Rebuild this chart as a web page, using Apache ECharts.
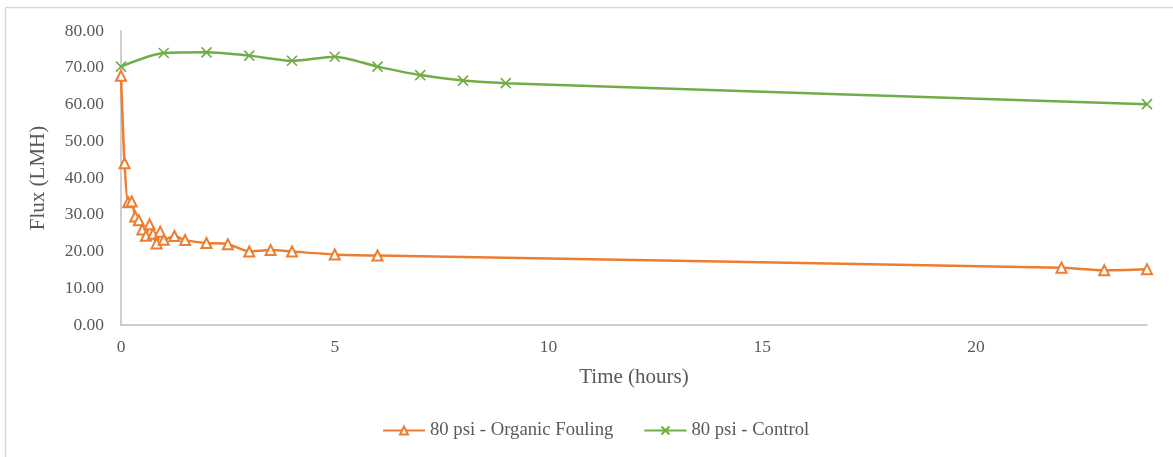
<!DOCTYPE html>
<html>
<head>
<meta charset="utf-8">
<script src="https://cdn.jsdelivr.net/npm/echarts@6/dist/echarts.min.js"></script>
<style>
  html, body { margin: 0; padding: 0; background: #ffffff; }
  #chart { width: 1173px; height: 457px; }
</style>
</head>
<body>
<div id="chart"></div>
<script>
// Flux over time for two 80 psi runs
const foulingHours = [0, 0.083, 0.167, 0.25, 0.333, 0.417, 0.5, 0.583, 0.667, 0.75, 0.833, 0.917, 1.0,
                      1.25, 1.5, 2, 2.5, 3, 3.5, 4, 5, 6, 22, 23, 24];
const foulingFlux  = [67.8, 44.0, 33.4, 33.6, 29.5, 28.5, 26.0, 24.3, 27.4, 24.8, 22.2, 25.4, 23.2,
                      24.2, 23.1, 22.3, 22.0, 20.0, 20.4, 20.0, 19.2, 18.9, 15.6, 14.9, 15.2];

const controlHours = [0, 1, 2, 3, 4, 5, 6, 7, 8, 9, 24];
const controlFlux  = [70.3, 74.0, 74.2, 73.3, 71.9, 73.0, 70.3, 68.0, 66.5, 65.8, 60.1];

const seriesNames = ['80 psi - Organic Fouling', '80 psi - Control'];
const xAxisTitle = 'Time (hours)';
const yAxisTitle = 'Flux (LMH)';

const ORANGE = '#ED7D31';
const GREEN = '#70AD47';
const FONT = 'Liberation Serif';
const TEXT = '#595959';

const pairs = (xs, ys) => xs.map((x, i) => [x, ys[i]]);

const chart = echarts.init(document.getElementById('chart'));
chart.setOption({
  backgroundColor: '#ffffff',
  animation: false,
  textStyle: { fontFamily: FONT },
  graphic: [
    // chart-area frame (top and left edges)
    { type: 'line', shape: { x1: 5.5, y1: 7.5, x2: 1173, y2: 7.5 }, style: { stroke: '#D9D9D9', lineWidth: 1.5 } },
    { type: 'line', shape: { x1: 5.5, y1: 7.5, x2: 5.5, y2: 457 }, style: { stroke: '#D9D9D9', lineWidth: 1.5 } }
  ],
  grid: { left: 121, right: 26, top: 31, bottom: 132 },
  legend: {
    bottom: 12,
    left: 377,
    itemWidth: 42,
    itemHeight: 10,
    itemGap: 30,
    textStyle: { fontFamily: FONT, fontSize: 18.7, color: TEXT },
    data: seriesNames
  },
  xAxis: {
    type: 'value',
    min: 0,
    max: 24,
    interval: 5,
    name: xAxisTitle,
    nameLocation: 'middle',
    nameGap: 42,
    nameTextStyle: { fontFamily: FONT, fontSize: 21, color: TEXT },
    axisLine: { lineStyle: { color: '#BFBFBF', width: 1.5 } },
    axisTick: { show: false },
    splitLine: { show: false },
    axisLabel: { fontFamily: FONT, fontSize: 17.5, color: TEXT, margin: 13,
                 formatter: v => (v % 5 === 0 && v < 24) ? String(v) : '' }
  },
  yAxis: {
    type: 'value',
    min: 0,
    max: 80,
    interval: 10,
    name: yAxisTitle,
    nameLocation: 'middle',
    nameGap: 72,
    nameTextStyle: { fontFamily: FONT, fontSize: 21, color: TEXT },
    axisLine: { show: true, lineStyle: { color: '#BFBFBF', width: 1.5 } },
    axisTick: { show: false },
    splitLine: { show: false },
    axisLabel: { fontFamily: FONT, fontSize: 17.5, color: TEXT, margin: 17,
                 formatter: v => v.toFixed(2) }
  },
  series: [
    {
      name: seriesNames[0],
      type: 'line',
      data: pairs(foulingHours, foulingFlux),
      smooth: 0.25,
      symbol: 'triangle',
      symbolSize: 10,
      lineStyle: { color: ORANGE, width: 2.5 },
      itemStyle: { color: '#ffffff', borderColor: ORANGE, borderWidth: 2 },
      z: 3
    },
    {
      name: seriesNames[1],
      type: 'line',
      data: pairs(controlHours, controlFlux),
      smooth: 0.25,
      symbol: 'path://M0,0L10,10M10,0L0,10',
      symbolSize: 10,
      lineStyle: { color: GREEN, width: 2.5 },
      itemStyle: { color: 'none', borderColor: GREEN, borderWidth: 1.6 },
      z: 2
    }
  ]
});
</script>
</body>
</html>
